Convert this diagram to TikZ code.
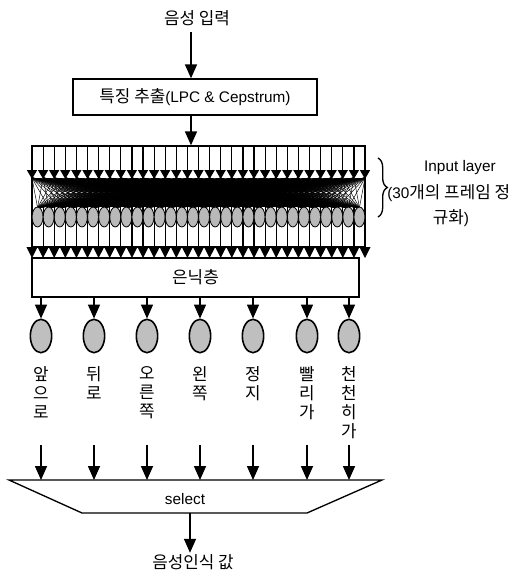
\documentclass[tikz,border=0pt]{standalone}
\usepackage{fontspec}
\setmainfont{Liberation Sans}
\newfontfamily\kr{Noto Sans CJK KR}[Scale=1.1]
\usetikzlibrary{arrows.meta,positioning,shapes.geometric,decorations.pathreplacing}

\tikzset{
    arr/.style={-{Triangle[width=9pt,length=10.5pt]}, line width=1.2pt},
    box/.style={draw, line width=1pt, inner sep=0pt},
    outnode/.style={draw, ellipse, line width=1.2pt, fill=gray!50, minimum width=16pt, minimum height=25pt, inner sep=0pt},
    vlabel/.style={anchor=north, align=center, inner sep=0pt, font=\kr\fontsize{11.5}{14.25}\selectfont}
}

\begin{document}
\begin{tikzpicture}[x=0.75pt, y=-0.75pt, font=\fontsize{11.5}{14}\selectfont]
            \useasboundingbox (0,0) rectangle (529,578);
            % input and feature extraction
            \node[inner sep=1pt] (inp) at (197,18) {\kr 음성 입력};
            \node[box, minimum width=183pt, minimum height=27pt] (feat) at (195,97) {{\kr 특징 추출}(LPC \& Cepstrum)};
            \coordinate (a0) at (191,32);
            \draw[arr] (a0) -- (a0 |- feat.north);
            % input layer
            \node[box, minimum width=249.75pt, minimum height=75.75pt] (ilayer) at (198.5,196.5) {};
            \draw[arr] (feat.south -| a0) -- (a0 |- ilayer.north);
            \foreach \k in {0,...,30} {
                \draw[line width=0.9pt] ({32+11.1*\k},146) -- ({32+11.1*\k},171);
                \fill ({32+11.1*\k-5.2},170) -- ({32+11.1*\k+5.2},170) -- ({32+11.1*\k},179) -- cycle;
                \draw[line width=0.9pt] ({32+11.1*\k},207) -- ({32+11.1*\k},248);
                \fill ({32+11.1*\k-5.55},247) -- ({32+11.1*\k+5.55},247) -- ({32+11.1*\k},258) -- cycle;
            }
            \foreach \k in {0,...,30}
                \foreach \i in {1,...,30}
                    \draw[line width=0.35pt] ({32+11.1*\k},178) -- ({32+11.1*(\i-0.5)},207.5);
            \foreach \i in {1,...,30}
                \draw[fill=gray!55, line width=0.6pt] ({32+11.1*(\i-0.5)},217) ellipse [x radius=4.1pt, y radius=7.5pt];
            \draw[line width=1pt] (32,247) -- (365,247);
            % brace and its text
            \draw[decorate, decoration={brace, amplitude=7pt}, line width=1pt] (378,158) -- (378,217);
            \node (il1) at (460,168) {Input layer};
            \node[anchor=west, inner sep=0pt] (il2) at (387,193) {(30{\kr 개의 프레임 정}};
            \node (il3) at (451,218) {{\kr 규화})};
            % hidden layer
            \node[box, minimum width=245.25pt, minimum height=29.25pt] (hid) at (195.5,277.5) {\kr 은닉층};
            % output nodes
            \foreach \x/\n/\t in {41/a/앞\\으\\로, 94/b/뒤\\로, 147/c/오\\른\\쪽, 200/d/왼\\쪽, 253/e/정\\지, 307/f/빨\\리\\가, 349/g/천\\천\\히\\가} {
                \node[outnode] (o\n) at (\x,336) {};
                \draw[arr] (o\n.north |- hid.south) -- (o\n.north);
                \node[vlabel] (t\n) at (\x,366) {\t};
                \coordinate (f\n) at (\x,445);
                \coordinate (s\n) at (\x,480);
                \draw[arr] (f\n) -- (s\n);
            }
            % select
            \coordinate (tl) at (9,480);
            \coordinate (tr) at (382,480);
            \coordinate (br) at (307,513);
            \coordinate (bl) at (82,513);
            \draw[line width=1pt] (tl) -- (tr) -- (br) -- (bl) -- cycle;
            \node (sel) at (185,499) {select};
            \coordinate (selb) at (190,513);
            \node[inner sep=1pt] (res) at (193,562) {\kr 음성인식 값};
            \draw[arr] (selb) -- (selb |- res.north);
        \end{tikzpicture}
\end{document}
